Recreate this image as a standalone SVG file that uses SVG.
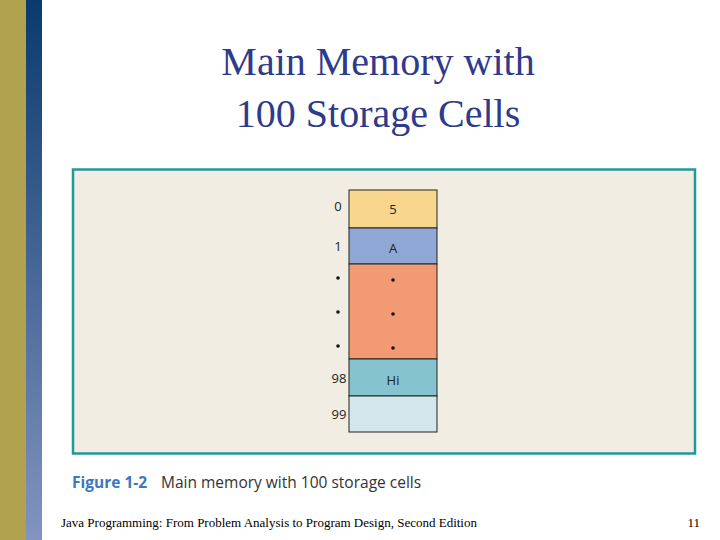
<svg xmlns="http://www.w3.org/2000/svg" width="720" height="540" viewBox="0 0 720 540">
<defs>
<linearGradient id="bl" x1="0" y1="0" x2="0" y2="1"><stop offset="0" stop-color="#0a3a6e"/><stop offset="1" stop-color="#8294c0"/></linearGradient>
<style>
.c{stroke:#222;stroke-width:1}
.t{font-family:"Open Sans","DejaVu Sans",sans-serif;font-size:13px;fill:#222;text-anchor:middle}
.d{fill:#111}
</style>
</defs>
<rect width="720" height="540" fill="#fff"/>
<rect x="0" y="0" width="26" height="540" fill="#b0a24e"/>
<rect x="26" y="0" width="16" height="540" fill="url(#bl)"/>
<text x="378" y="75" font-family="Liberation Serif,serif" font-size="40" fill="#2e3a8c" text-anchor="middle">Main Memory with</text>
<text x="378" y="127" font-family="Liberation Serif,serif" font-size="40" fill="#2e3a8c" text-anchor="middle">100 Storage Cells</text>
<rect x="73" y="169.5" width="622" height="284" fill="#f1ede2" stroke="#1f9a9a" stroke-width="2.5"/>
<g id="cell0"><rect class="c" x="349" y="190" width="88" height="38" fill="#f8d68e"/><text class="t" x="393" y="214">5</text><text class="t" x="338" y="211">0</text></g>
<g id="cell1"><rect class="c" x="349" y="228" width="88" height="36" fill="#90a8d6"/><text class="t" x="393" y="253">A</text><text class="t" x="338" y="251">1</text></g>
<g id="cellmid"><rect class="c" x="349" y="264" width="88" height="95" fill="#f29a74"/>
<circle class="d" cx="393" cy="280" r="1.8"/><circle class="d" cx="393" cy="314" r="1.8"/><circle class="d" cx="393" cy="348" r="1.8"/>
<circle class="d" cx="338" cy="278" r="1.8"/><circle class="d" cx="338" cy="312" r="1.8"/><circle class="d" cx="338" cy="346" r="1.8"/></g>
<g id="cell98"><rect class="c" x="349" y="359" width="88" height="37" fill="#85c3cf"/><text class="t" x="393" y="385">Hi</text><text class="t" x="339" y="383">98</text></g>
<g id="cell99"><rect class="c" x="349" y="396" width="88" height="36" fill="#d2e6ec"/><text class="t" x="339" y="419">99</text></g>
<g id="connectors"/>
<text x="72" y="488" font-family="Open Sans,sans-serif" font-size="15.5" font-weight="bold" fill="#3a78c0">Figure 1-2</text>
<text x="161" y="488" font-family="Open Sans,sans-serif" font-size="15.5" fill="#333">Main memory with 100 storage cells</text>
<text x="61" y="527" font-family="Liberation Serif,serif" font-size="13" fill="#000">Java Programming: From Problem Analysis to Program Design, Second Edition</text>
<text x="700" y="527" font-family="Liberation Serif,serif" font-size="13" fill="#000" text-anchor="end">11</text>
</svg>
